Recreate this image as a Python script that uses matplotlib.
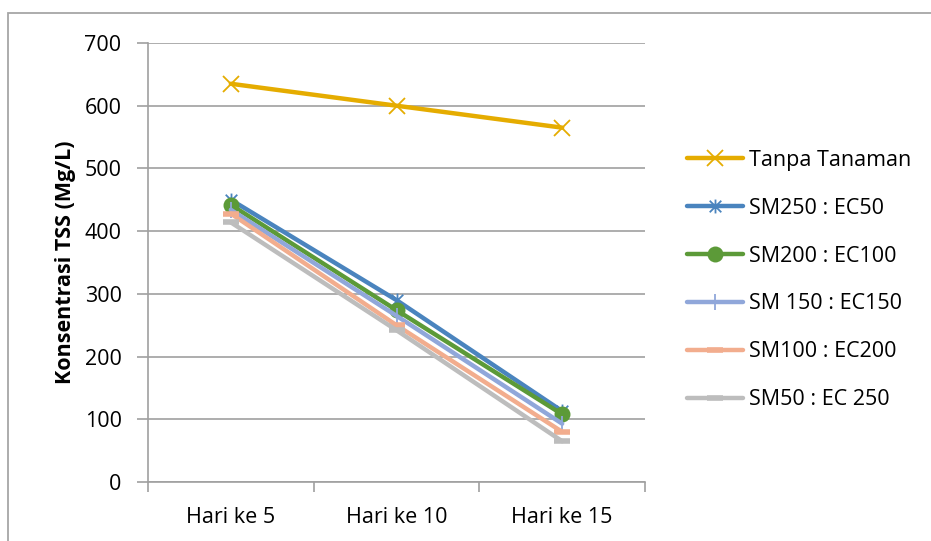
import matplotlib
matplotlib.use("Agg")
import matplotlib.pyplot as plt
from matplotlib.path import Path
from matplotlib.patches import Rectangle

plt.rcParams['font.family'] = ['Open Sans', 'DejaVu Sans']

categories = ["Hari ke 5", "Hari ke 10", "Hari ke 15"]
series_names = ["Tanpa Tanaman", "SM250 : EC50", "SM200 : EC100",
                "SM 150 : EC150", "SM100 : EC200", "SM50 : EC 250"]
tanpa_tanaman = [635, 600, 565]
sm250_ec50 = [450, 290, 113]
sm200_ec100 = [442, 274, 108]
sm150_ec150 = [434, 265, 93]
sm100_ec200 = [428, 250, 80]
sm50_ec250 = [414, 242, 65]
y_ticks = [0, 100, 200, 300, 400, 500, 600, 700]

# Excel-style asterisk: diagonal cross plus a vertical stroke
star_path = Path(
    [(-1, -1), (1, 1), (-1, 1), (1, -1), (0, -1.2), (0, 1.2)],
    [Path.MOVETO, Path.LINETO, Path.MOVETO, Path.LINETO, Path.MOVETO, Path.LINETO],
)

styles = [
    dict(color="#E5AC00", marker="x", ms=12, mew=1.3),
    dict(color="#4A84BE", marker=star_path, ms=10, mew=1.3),
    dict(color="#5C9A38", marker="o", ms=11.5, mew=0),
    dict(color="#90A7DA", marker="|", ms=12, mew=1.3),
    dict(color="#F2AD8E", marker="_", ms=11, mew=4),
    dict(color="#BDBDBD", marker="_", ms=11, mew=4),
]
values = [tanpa_tanaman, sm250_ec50, sm200_ec100, sm150_ec150, sm100_ec200, sm50_ec250]

W, H = 931, 541
fig = plt.figure(figsize=(W / 100, H / 100), dpi=100)
ax = fig.add_axes([148 / W, (H - 482) / H, (645 - 148) / W, (482 - 43) / H])

x = list(range(len(categories)))
for name, vals, st in zip(series_names, values, styles):
    ax.plot(x, vals, color=st["color"], lw=3.2, marker=st["marker"],
            markersize=st["ms"], markeredgewidth=st["mew"],
            markeredgecolor=st["color"], markerfacecolor=st["color"],
            label=name, solid_capstyle="round", zorder=3)

grid_c = "#A0A0A0"
fs = 15.5
ax.set_ylim(0, 700)
ax.set_xlim(-0.5, len(categories) - 0.5)
ax.set_yticks(y_ticks)
ax.set_yticklabels([str(v) for v in y_ticks], fontsize=fs)
ax.yaxis.grid(True, color=grid_c, lw=1.2)
ax.set_axisbelow(True)

ax.set_xticks([i - 0.5 for i in range(len(categories) + 1)])
ax.set_xticklabels([])
ax.set_xticks(x, minor=True)
ax.set_xticklabels(categories, minor=True, fontsize=fs)
ax.tick_params(axis="x", which="major", length=7, color=grid_c, width=1.2, direction="out")
ax.tick_params(axis="x", which="minor", length=0, pad=18)
ax.tick_params(axis="y", length=8, color=grid_c, width=1.2, pad=11)

for s in ["top", "right"]:
    ax.spines[s].set_visible(False)
for s in ["left", "bottom"]:
    ax.spines[s].set_color(grid_c)
    ax.spines[s].set_linewidth(1.2)

ax.set_ylabel("Konsentrasi TSS (Mg/L)", fontsize=15.5, fontweight="bold", labelpad=6)

leg = ax.legend(loc="center left", bbox_to_anchor=(668 / W, (H - 280) / H),
                bbox_transform=fig.transFigure, frameon=False, fontsize=fs,
                labelspacing=1.25, handlelength=2.6, handletextpad=0.25)

# outer chart frame
fig.patches.append(Rectangle((8 / W, -0.1), 1.1, (H - 13) / H + 0.1,
                             transform=fig.transFigure, fill=False,
                             edgecolor="#A6A6A6", lw=1.3))

fig.savefig("out.png", dpi=100)
